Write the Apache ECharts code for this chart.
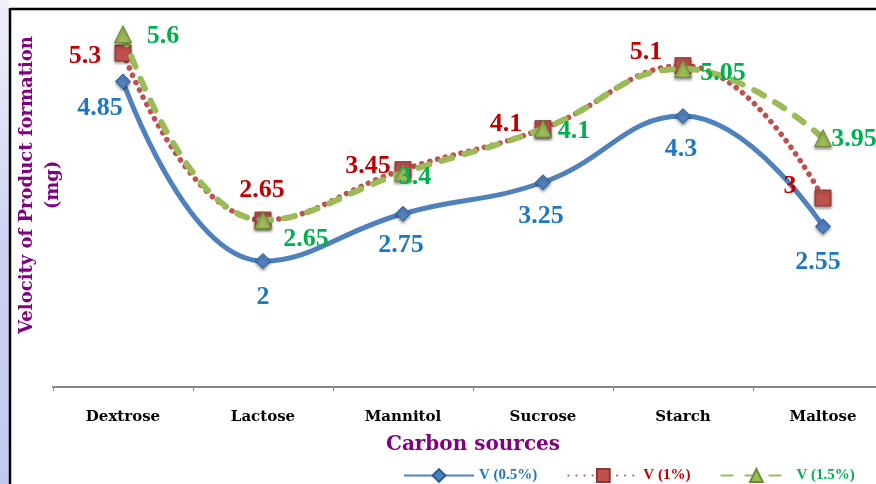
<!DOCTYPE html>
<html><head><meta charset="utf-8">
<script src="https://cdn.jsdelivr.net/npm/echarts@6/dist/echarts.min.js"></script>
<style>html,body{margin:0;padding:0;background:#fff;}#c{width:876px;height:484px;}</style>
</head><body><div id="c"></div>
<script>
var categories = ['Dextrose','Lactose','Mannitol','Sucrose','Starch','Maltose'];
var v05 = [4.85, 2, 2.75, 3.25, 4.3, 2.55];
var v1 = [5.3, 2.65, 3.45, 4.1, 5.1, 3];
var v15 = [5.6, 2.65, 3.4, 4.1, 5.05, 3.95];
var seriesNames = ['V (0.5%)','V (1%)','V (1.5%)'];

var offB = [[-23,27],[0,36],[-2,32],[-2,34],[-2,33],[-5,36]];
var offR = [[-38,3],[-1,-30],[-35,-3],[-37,-4],[-37,-13],[-33,-12]];
var offG = [[40,2],[43,19],[12,4],[31,3],[40,4],[31,1]];

function mk(vals, offs, col){
  return vals.map(function(v,i){
    return {value:v, label:{show:true, position:'inside', offset:offs[i], color:col,
      fontFamily:'Liberation Serif', fontWeight:'bold', fontSize:26, formatter:'{c}'}};
  });
}
var chart = echarts.init(document.getElementById('c'));
chart.setOption({
  animation:false,
  backgroundColor:'#fff',
  grid:{left:53, width:840, top:9, bottom:97, containLabel:false, outerBoundsMode:'none'},
  xAxis:{type:'category', data:categories, boundaryGap:true,
    axisLine:{lineStyle:{color:'#868686', width:2}},
    axisTick:{show:true, length:4, lineStyle:{color:'#868686'}},
    axisLabel:{color:'#000', fontFamily:'DejaVu Serif', fontWeight:'bold', fontSize:15, margin:23}},
  yAxis:{type:'value', min:0, max:6, show:false, splitLine:{show:false}},
  legend:{left:398, top:463, itemWidth:70, itemHeight:16, itemGap:30,
    data:seriesNames.map(function(n,i){return {name:n, textStyle:{color:['#1f77c4','#c00000','#00b050'][i]}};}),
    textStyle:{fontFamily:'Liberation Serif', fontWeight:'bold', fontSize:15}},
  series:[
    {name:seriesNames[0], type:'line', smooth:0.45, data:mk(v05, offB, '#1f77c4'),
      symbol:'diamond', symbolSize:15,
      itemStyle:{color:'#4f81bd', borderColor:'#2c5a94', borderWidth:1, shadowBlur:3, shadowColor:'rgba(0,0,0,0.4)', shadowOffsetY:2},
      lineStyle:{color:'#4f81bd', width:5}, z:2},
    {name:seriesNames[1], type:'line', smooth:0.45, data:mk(v1, offR, '#c00000'),
      symbol:'rect', symbolSize:16,
      itemStyle:{color:'#c0504d', borderColor:'#8c3836', borderWidth:1, shadowBlur:3, shadowColor:'rgba(0,0,0,0.4)', shadowOffsetY:2},
      lineStyle:{color:'#c0504d', width:5.5, type:[0.1,8], cap:'round'}, z:3},
    {name:seriesNames[2], type:'line', smooth:0.45, data:mk(v15, offG, '#00b050'),
      symbol:'triangle', symbolSize:17,
      itemStyle:{color:'#9bbb59', borderColor:'#6b8a35', borderWidth:1, shadowBlur:3, shadowColor:'rgba(0,0,0,0.4)', shadowOffsetY:2},
      lineStyle:{color:'#9bbb59', width:6, type:[11,13], cap:'round'}, z:4}
  ],
  graphic:[
    {type:'rect', shape:{x:0,y:0,width:9,height:484}, style:{fill:{type:'linear',x:0,y:0,x2:0,y2:1,colorStops:[{offset:0,color:'#eef0fa'},{offset:0.5,color:'#cdd2f2'},{offset:1,color:'#c2c8f0'}]}}, z:0},
    {type:'line', shape:{x1:10,y1:9,x2:876,y2:9}, style:{stroke:'#000', lineWidth:2.5}},
    {type:'line', shape:{x1:10,y1:8,x2:10,y2:484}, style:{stroke:'#000', lineWidth:2.5}},
    {type:'text', x:27, y:185, rotation:Math.PI/2, style:{text:'Velocity of Product formation', fill:'#800080', font:'bold 18px "DejaVu Serif"', align:'center', verticalAlign:'middle'}},
    {type:'text', x:53, y:185, rotation:Math.PI/2, style:{text:'(mg)', fill:'#800080', font:'bold 18px "DejaVu Serif"', align:'center', verticalAlign:'middle'}},
    {type:'text', x:473, y:445, style:{text:'Carbon sources', fill:'#800080', font:'bold 20px "DejaVu Serif"', align:'center', verticalAlign:'middle'}}
  ]
});
</script></body></html>
